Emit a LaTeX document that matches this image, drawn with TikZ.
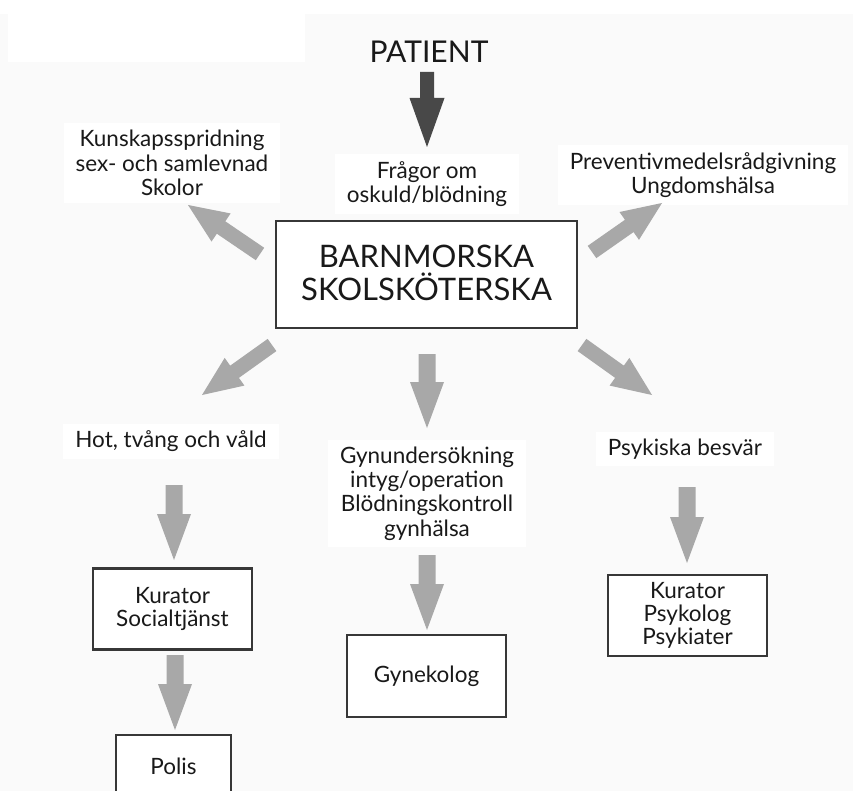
\documentclass[tikz,border=0pt]{standalone}
\usepackage{fontspec}
\setmainfont{Lato}
\usetikzlibrary{calc}
\definecolor{bg}{RGB}{250,250,250}
\definecolor{arrowgray}{RGB}{168,168,168}
\definecolor{darkarrow}{RGB}{72,72,72}
\definecolor{boxline}{RGB}{55,55,55}
\definecolor{txt}{RGB}{25,25,25}
% block arrow: #1 colour, #2 tail, #3 tip, #4 shaft half width, #5 head half width, #6 head length
\newcommand\blockarrow[6]{%
  \coordinate (ba-h) at ($(#3)!#6!(#2)$);
  \fill[#1] ($(#2)!#4!90:(#3)$) -- ($(ba-h)!#4!90:(#3)$) -- ($(ba-h)!#5!90:(#3)$) -- (#3)
    -- ($(ba-h)!#5!-90:(#3)$) -- ($(ba-h)!#4!-90:(#3)$) -- ($(#2)!#4!-90:(#3)$) -- cycle;}
\newcommand\vgrayarrow[2]{\blockarrow{arrowgray}{#1}{#2}{8.5pt}{17pt}{46pt}}
\newcommand\dgrayarrow[2]{\blockarrow{arrowgray}{#1}{#2}{7.5pt}{17pt}{40pt}}
\tikzset{
  lbl/.style={font=\fontsize{22.5}{24.3}\selectfont, text=txt, align=center, fill=white, inner xsep=12pt, inner ysep=7pt},
  boxnode/.style={draw=boxline, line width=2.3pt, fill=white, minimum width=159pt, minimum height=81pt,
    align=center, font=\fontsize{22.5}{23.3}\selectfont, text=txt, inner sep=0pt},
}
\begin{document}
\begin{tikzpicture}[x=1pt, y=-1pt]
\useasboundingbox (0,0) rectangle (853,791);
\clip (0,0) rectangle (853,791);
\fill[bg] (0,0) rectangle (853,791);
\fill[white] (0,0) rectangle (853,14);
\fill[white] (8,14) rectangle (305,62);

% title
\node[font=\fontsize{30}{32}\selectfont, text=txt, inner sep=0pt] (patient) at (429,51.5) {PATIENT};

% labels
\node[lbl] (know) at (172,163) {Kunskapsspridning\\sex- och samlevnad\\Skolor};
\node[lbl] (fragor) at (427,184) {Frågor om\\oskuld/blödning};
\node[lbl] (prev) at (703,175) {Preventivmedelsrådgivning\\Ungdomshälsa};
\node[lbl] (hot) at (171,441) {Hot, tvång och våld};
\node[lbl] (gyn) at (427,493.5) {Gynundersökning\\intyg/operation\\Blödningskontroll\\gynhälsa};
\node[lbl] (psyk) at (685,449) {Psykiska besvär};

% main box
\node[boxnode, minimum width=301pt, minimum height=107pt, font=\fontsize{31}{33}\selectfont] (main) at (426.5,274.5) {\raisebox{3pt}{BARNMORSKA}\\\raisebox{3pt}{SKOLSKÖTERSKA}};

% boxes
\node[boxnode] (kur) at (172.5,609) {Kurator\\Socialtjänst};
\node[boxnode, minimum width=115pt, minimum height=62pt] (polis) at (173.5,766) {Polis};
\node[boxnode, minimum height=82pt] (gyne) at (426.5,676) {Gynekolog};
\node[boxnode] (psy) at (687.5,615.5) {Kurator\\Psykolog\\Psykiater};

% arrow end points
\coordinate (p1) at (427,72);   \coordinate (p2) at (427,147);
\coordinate (ul1) at (260,254); \coordinate (ul2) at (188,205);
\coordinate (ur1) at (592,252); \coordinate (ur2) at (662,203);
\coordinate (dl1) at (272,345); \coordinate (dl2) at (202,395);
\coordinate (dr1) at (582,345); \coordinate (dr2) at (652,395);
\coordinate (c11) at (427,354); \coordinate (c12) at (427,428);
\coordinate (l11) at (174,485); \coordinate (l12) at (174,560);
\coordinate (l21) at (175,655); \coordinate (l22) at (175,730);
\coordinate (c21) at (427,555); \coordinate (c22) at (427,630);
\coordinate (r11) at (687,487); \coordinate (r12) at (687,563);

\blockarrow{darkarrow}{p1}{p2}{7pt}{17.5pt}{49pt}
\dgrayarrow{ul1}{ul2}
\dgrayarrow{ur1}{ur2}
\dgrayarrow{dl1}{dl2}
\dgrayarrow{dr1}{dr2}
\vgrayarrow{c11}{c12}
\vgrayarrow{l11}{l12}
\vgrayarrow{l21}{l22}
\vgrayarrow{c21}{c22}
\vgrayarrow{r11}{r12}
\end{tikzpicture}
\end{document}
